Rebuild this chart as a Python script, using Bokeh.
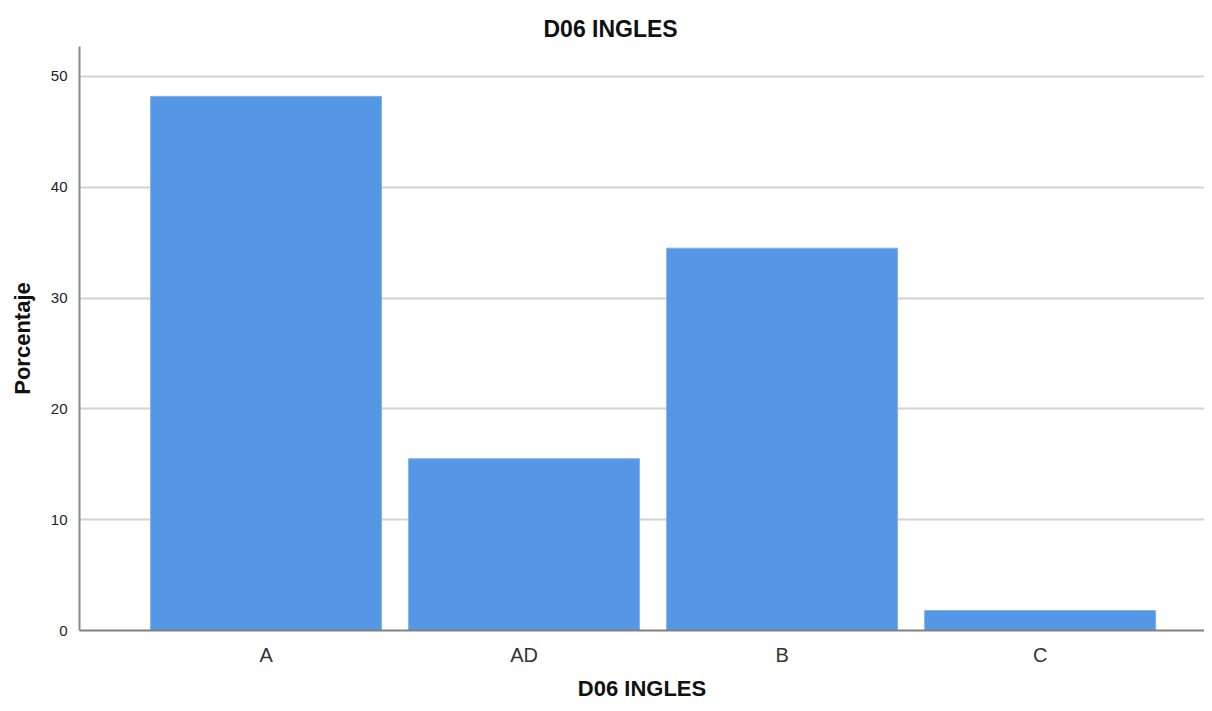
from bokeh.plotting import figure
from bokeh.models import Range1d, FixedTicker, Title
from bokeh.embed import file_html
from bokeh.resources import INLINE

categories = ["A", "AD", "B", "C"]
porcentaje = [48.2, 15.5, 34.5, 1.8]
y_ticks = [0, 10, 20, 30, 40, 50]

xs = list(range(len(categories)))

p = figure(width=1204, height=703, output_backend="svg", toolbar_location=None,
           x_range=Range1d(-0.723, 3.637), y_range=Range1d(0, 52.7),
           min_border_left=79, min_border_right=0, min_border_top=46, min_border_bottom=73)

p.vbar(x=xs, top=porcentaje, width=0.895, fill_color="#5596e5",
       line_color="#7eb0ee", line_width=1)

t = Title(text="D06 INGLES", align="left", offset=464, text_font="Liberation Sans",
          text_font_size="23px", text_font_style="bold", text_color="#111111")
p.add_layout(t, "above")
p.title.visible = False

p.outline_line_color = None
p.background_fill_color = "white"
p.border_fill_color = "white"

p.xgrid.grid_line_color = None
p.ygrid.grid_line_color = "#d2d2d2"
p.ygrid.grid_line_width = 2
p.ygrid.ticker = FixedTicker(ticks=y_ticks[1:])

p.yaxis.ticker = FixedTicker(ticks=y_ticks)
p.yaxis.axis_label = "Porcentaje"
p.yaxis.axis_line_color = "#8a8a8a"
p.yaxis.axis_line_width = 2
p.yaxis.major_tick_line_color = None
p.yaxis.minor_tick_line_color = None
p.yaxis.major_label_standoff = 6
p.yaxis.major_label_text_font = "Liberation Sans"
p.yaxis.major_label_text_font_size = "15px"
p.yaxis.major_label_text_color = "#222222"
p.yaxis.axis_label_text_font = "Liberation Sans"
p.yaxis.axis_label_text_font_size = "22px"
p.yaxis.axis_label_text_font_style = "bold"
p.yaxis.axis_label_text_color = "#111111"
p.yaxis.axis_label_standoff = 13

p.xaxis.ticker = FixedTicker(ticks=xs)
p.xaxis.major_label_overrides = {i: c for i, c in enumerate(categories)}
p.xaxis.axis_label = "D06 INGLES"
p.xaxis.axis_line_color = "#808080"
p.xaxis.axis_line_width = 2
p.xaxis.major_tick_line_color = None
p.xaxis.minor_tick_line_color = None
p.xaxis.major_label_standoff = 7
p.xaxis.major_label_text_font = "Liberation Sans"
p.xaxis.major_label_text_font_size = "20px"
p.xaxis.major_label_text_color = "#333333"
p.xaxis.axis_label_text_font = "Liberation Sans"
p.xaxis.axis_label_text_font_size = "22px"
p.xaxis.axis_label_text_font_style = "bold"
p.xaxis.axis_label_text_color = "#111111"
p.xaxis.axis_label_standoff = 7

open("out.html", "w").write(file_html(p, INLINE))
